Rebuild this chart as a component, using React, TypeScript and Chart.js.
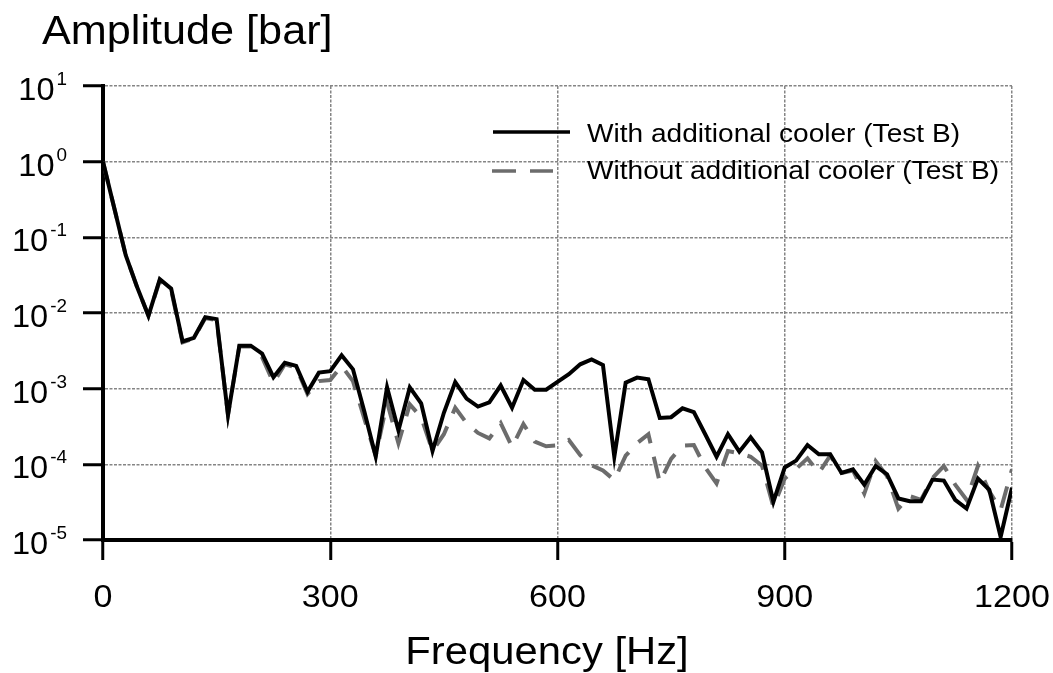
import { useEffect, useRef } from 'react';
import { Chart, registerables } from 'chart.js';

Chart.register(...registerables);

const FREQUENCIES_HZ = [
  0, 15, 30, 45, 60, 75, 90, 105, 120, 135, 150, 165, 180, 195, 210, 225, 240, 255, 270, 285,
  300, 315, 330, 345, 360, 375, 390, 405, 420, 435, 450, 465, 480, 495, 510, 525, 540, 555, 570, 585,
  600, 615, 630, 645, 660, 675, 690, 705, 720, 735, 750, 765, 780, 795, 810, 825, 840, 855, 870, 885,
  900, 915, 930, 945, 960, 975, 990, 1005, 1020, 1035, 1050, 1065, 1080, 1095, 1110, 1125, 1140, 1155, 1170, 1185,
  1200,
];

const WITH_COOLER = [
  1.0, 0.24, 0.058, 0.022, 0.0092, 0.028, 0.021, 0.0042, 0.0047, 0.0088, 0.0083, 0.00045, 0.0037, 0.0037, 0.0029, 0.00142, 0.0022, 0.002, 0.00091, 0.00163,
  0.0017, 0.00276, 0.0018, 0.0005, 0.000127, 0.00104, 0.00028, 0.00104, 0.00064, 0.00015, 0.00048, 0.00122, 0.00074, 0.00058, 0.00066, 0.0011, 0.00056, 0.0013, 0.00097, 0.00097,
  0.00123, 0.00155, 0.0021, 0.00243, 0.00205, 0.000126, 0.0012, 0.0014, 0.00133, 0.00041, 0.00042, 0.00055, 0.00049, 0.00025, 0.000126, 0.00025, 0.000147, 0.000228, 0.000144, 0.000032,
  0.000091, 0.000112, 0.00018, 0.000136, 0.000136, 0.000077, 0.000086, 0.000054, 0.000095, 0.000074, 0.0000354, 0.0000325, 0.0000325, 0.000063, 0.000061, 0.000034, 0.000026, 0.000065, 0.000046, 0.000011,
  0.000049,
];

const WITHOUT_COOLER = [
  1.0, 0.24, 0.058, 0.022, 0.0092, 0.027, 0.02, 0.0041, 0.0046, 0.0086, 0.008, 0.00045, 0.0036, 0.0036, 0.0026, 0.0012, 0.0021, 0.0019, 0.00085, 0.00126,
  0.0013, 0.002, 0.00126, 0.0004, 0.00013, 0.00066, 0.00019, 0.00062, 0.00042, 0.00015, 0.00025, 0.00056, 0.00035, 0.00026, 0.00022, 0.00035, 0.00017, 0.00034, 0.0002, 0.000173,
  0.000178, 0.00021, 0.000132, 0.000097, 0.000083, 0.000062, 0.00013, 0.00019, 0.00025, 0.000058, 0.000118, 0.000176, 0.00018, 0.000091, 0.000056, 0.00015, 0.00014, 0.000126, 0.000096, 0.0000275,
  0.000065, 0.000087, 0.00012, 0.000077, 0.00013, 0.000077, 0.000083, 0.000041, 0.00011, 0.00007, 0.000026, 0.000038, 0.000034, 0.000066, 0.000095, 0.000054, 0.000034, 0.000095, 0.000044, 0.000025,
  0.000086,
];

const X_TICKS = [0, 300, 600, 900, 1200];
const Y_DECADES = [1e-5, 1e-4, 1e-3, 1e-2, 1e-1, 1, 10];
const Y_EXPONENTS = ['-5', '-4', '-3', '-2', '-1', '0', '1'];
const LEGEND_LABELS = ['With additional cooler (Test B)', 'Without additional cooler (Test B)'];
const Y_TITLE = 'Amplitude [bar]';
const X_TITLE = 'Frequency [Hz]';

const FONT = '"Liberation Sans", Arial, sans-serif';
const BLACK = '#000000';
const GREY = '#6c6c6c';

function drawText(
  ctx: CanvasRenderingContext2D,
  text: string,
  x: number,
  y: number,
  size: number,
  align: 'left' | 'center' | 'right',
  stretch: number
) {
  ctx.save();
  ctx.font = `${size}px ${FONT}`;
  ctx.textBaseline = 'alphabetic';
  ctx.textAlign = 'left';
  const w = ctx.measureText(text).width * stretch;
  const left = align === 'center' ? x - w / 2 : align === 'right' ? x - w : x;
  ctx.translate(left, y);
  ctx.scale(stretch, 1);
  ctx.fillStyle = BLACK;
  ctx.fillText(text, 0, 0);
  ctx.restore();
  return w;
}

const textPlugin = {
  id: 'customText',
  afterDraw(chart: any) {
    const ctx: CanvasRenderingContext2D = chart.ctx;
    const xs = chart.scales.x;
    const ys = chart.scales.y;
    const area = chart.chartArea;

    // axis titles
    drawText(ctx, Y_TITLE, 42, 44, 40, 'left', 1.08);
    drawText(ctx, X_TITLE, 547, 664, 38, 'center', 1.1);

    // x tick labels
    X_TICKS.forEach((v) => {
      drawText(ctx, String(v), xs.getPixelForValue(v), 607, 31, 'center', 1.1);
    });

    // y tick labels 10^n
    Y_DECADES.forEach((v, i) => {
      const py = ys.getPixelForValue(v);
      const expW = drawText(ctx, Y_EXPONENTS[i], 67, py - 1, 18, 'right', 1.05);
      drawText(ctx, '10', 67 - expW - 2, py + 14, 31, 'right', 1.05);
    });

    // legend
    const row1 = area.top + 46;
    const row2 = area.top + 85;
    ctx.save();
    ctx.lineWidth = 3.5;
    ctx.lineCap = 'butt';
    ctx.strokeStyle = BLACK;
    ctx.beginPath();
    ctx.moveTo(493, row1);
    ctx.lineTo(570, row1);
    ctx.stroke();
    ctx.strokeStyle = GREY;
    ctx.beginPath();
    ctx.moveTo(492, row2);
    ctx.lineTo(516, row2);
    ctx.moveTo(530, row2);
    ctx.lineTo(553, row2);
    ctx.stroke();
    ctx.restore();
    drawText(ctx, LEGEND_LABELS[0], 587, row1 + 10, 26, 'left', 1.08);
    drawText(ctx, LEGEND_LABELS[1], 587, row2 + 8, 26, 'left', 1.08);
  },
};

export default function App() {
  const canvasRef = useRef<HTMLCanvasElement | null>(null);

  useEffect(() => {
    if (!canvasRef.current) return;
    const gridCommon = {
      color: '#858585',
      lineWidth: 1.5,
      drawTicks: true,
      tickLength: 20,
      tickColor: BLACK,
      tickWidth: 3,
    };
    const chart = new Chart(canvasRef.current, {
      type: 'line',
      data: {
        datasets: [
          {
            label: LEGEND_LABELS[0],
            data: FREQUENCIES_HZ.map((f, i) => ({ x: f, y: WITH_COOLER[i] })),
            borderColor: BLACK,
            borderWidth: 4,
            pointRadius: 0,
            tension: 0,
            fill: false,
            order: 0,
          },
          {
            label: LEGEND_LABELS[1],
            data: FREQUENCIES_HZ.map((f, i) => ({ x: f, y: WITHOUT_COOLER[i] })),
            borderColor: GREY,
            borderWidth: 4,
            borderDash: [22, 14],
            pointRadius: 0,
            tension: 0,
            fill: false,
            order: 1,
          },
        ],
      },
      options: {
        animation: false,
        responsive: false,
        devicePixelRatio: 1,
        layout: { padding: { left: 0, right: 41, top: 86, bottom: 0 } },
        plugins: {
          legend: { display: false },
          tooltip: { enabled: false },
          title: { display: false },
        },
        scales: {
          x: {
            type: 'linear',
            min: 0,
            max: 1200,
            afterBuildTicks: (s: any) => {
              s.ticks = X_TICKS.map((v) => ({ value: v }));
            },
            afterFit: (s: any) => {
              s.height = 133;
            },
            ticks: { display: false },
            grid: gridCommon,
            border: { display: true, color: BLACK, width: 4, dash: [3, 1.5] },
          },
          y: {
            type: 'logarithmic',
            min: 1e-5,
            max: 10,
            afterBuildTicks: (s: any) => {
              s.ticks = Y_DECADES.map((v) => ({ value: v }));
            },
            afterFit: (s: any) => {
              s.width = 103;
            },
            ticks: { display: false },
            grid: gridCommon,
            border: { display: true, color: BLACK, width: 4, dash: [3, 1.5] },
          },
        },
      } as any,
      plugins: [textPlugin],
    });
    return () => chart.destroy();
  }, []);

  return (
    <div style={{ position: 'fixed', left: 0, top: 0, width: 1053, height: 673, background: '#fff' }}>
      <canvas ref={canvasRef} width={1053} height={673} style={{ display: 'block' }} />
    </div>
  );
}
